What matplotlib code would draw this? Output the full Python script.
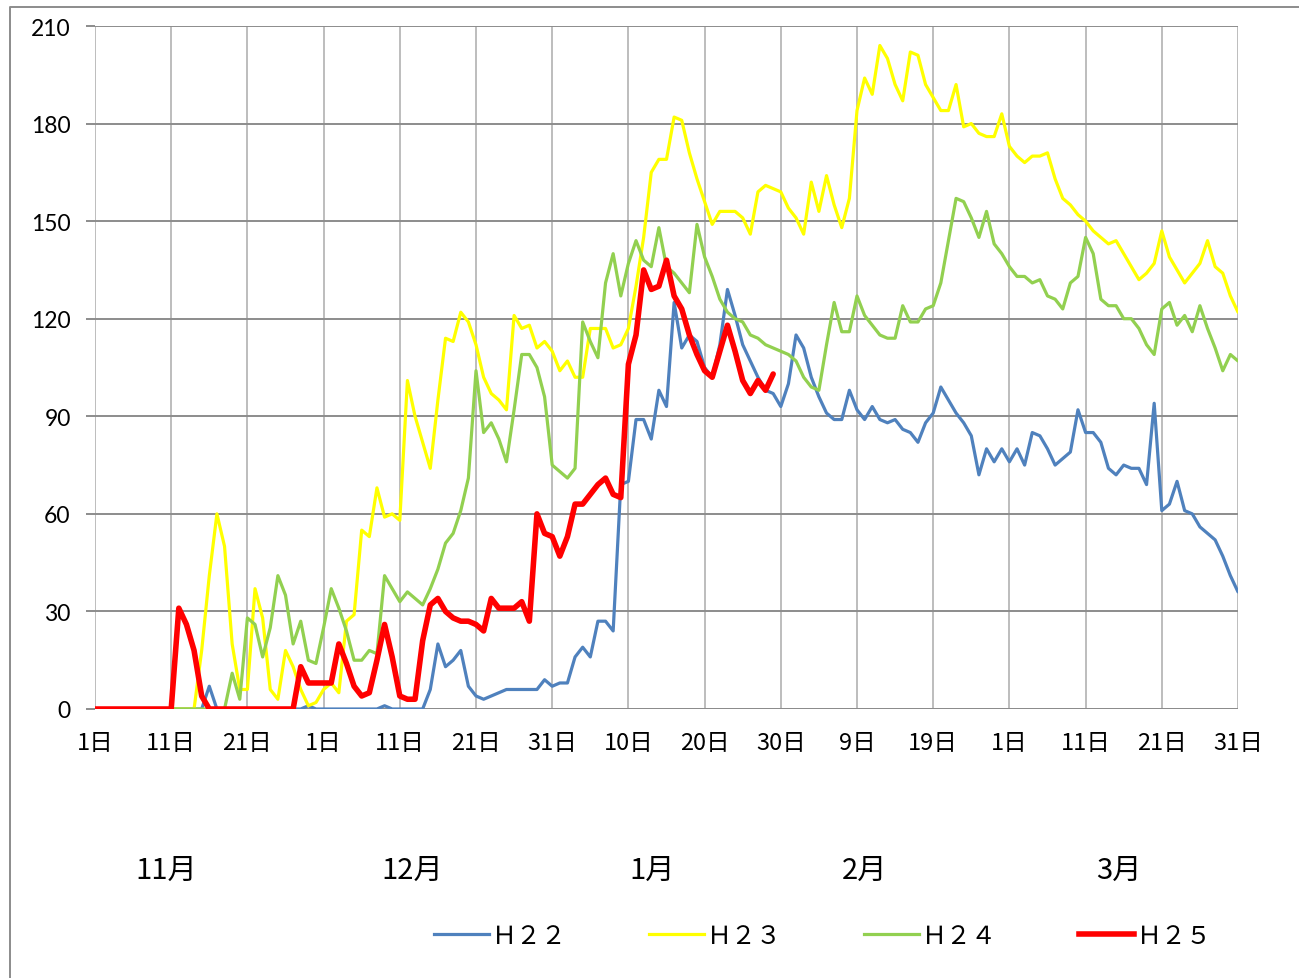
import matplotlib
matplotlib.use('Agg')
import matplotlib.pyplot as plt
import matplotlib.transforms as mtransforms
from matplotlib.lines import Line2D
import numpy as np

# ---------------- data ----------------
days = list(range(151))
tick_pos = list(range(0, 151, 10))
tick_labels = ["1日", "11日", "21日", "1日", "11日", "21日", "31日", "10日",
               "20日", "30日", "9日", "19日", "1日", "11日", "21日", "31日"]
months = ["11月", "12月", "1月", "2月", "3月"]
month_pos = [9.4, 41.6, 73.1, 101.0, 134.3]
y_ticks = [0, 30, 60, 90, 120, 150, 180, 210]
series_names = ["Ｈ２２", "Ｈ２３", "Ｈ２４", "Ｈ２５"]

h22 = [0, 0, 0, 0, 0, 0, 0, 0, 0, 0,
       0, 0, 0, 0, 0, 7, 0, 0, 0, 0,
       0, 0, 0, 0, 0, 0, 0, 0, 1, 0,
       0, 0, 0, 0, 0, 0, 0, 0, 1, 0,
       0, 0, 0, 0, 6, 20, 13, 15, 18, 7,
       4, 3, 4, 5, 6, 6, 6, 6, 6, 9,
       7, 8, 8, 16, 19, 16, 27, 27, 24, 69,
       70, 89, 89, 83, 98, 93, 125, 111, 115, 113,
       105, 102, 112, 129, 121, 112, 107, 102, 98, 97,
       93, 100, 115, 111, 102, 96, 91, 89, 89, 98,
       92, 89, 93, 89, 88, 89, 86, 85, 82, 88,
       91, 99, 95, 91, 88, 84, 72, 80, 76, 80,
       76, 80, 75, 85, 84, 80, 75, 77, 79, 92,
       85, 85, 82, 74, 72, 75, 74, 74, 69, 94,
       61, 63, 70, 61, 60, 56, 54, 52, 47, 41, 36]

h23 = [0, 0, 0, 0, 0, 0, 0, 0, 0, 0,
       0, 0, 0, 0, 18, 41, 60, 50, 20, 6,
       6, 37, 28, 6, 3, 18, 13, 6, 1, 2,
       6, 8, 5, 27, 29, 55, 53, 68, 59, 60,
       58, 101, 90, 82, 74, 95, 114, 113, 122, 119,
       112, 102, 97, 95, 92, 121, 117, 118, 111, 113,
       110, 104, 107, 102, 102, 117, 117, 117, 111, 112,
       117, 130, 145, 165, 169, 169, 182, 181, 171, 163,
       156, 149, 153, 153, 153, 151, 146, 159, 161, 160,
       159, 154, 151, 146, 162, 153, 164, 155, 148, 157,
       184, 194, 189, 204, 200, 192, 187, 202, 201, 192,
       188, 184, 184, 192, 179, 180, 177, 176, 176, 183,
       173, 170, 168, 170, 170, 171, 163, 157, 155, 152,
       150, 147, 145, 143, 144, 140, 136, 132, 134, 137,
       147, 139, 135, 131, 134, 137, 144, 136, 134, 127, 122]

h24 = [0, 0, 0, 0, 0, 0, 0, 0, 0, 0,
       0, 0, 0, 0, 0, 0, 0, 0, 11, 3,
       28, 26, 16, 25, 41, 35, 20, 27, 15, 14,
       25, 37, 31, 24, 15, 15, 18, 17, 41, 37,
       33, 36, 34, 32, 37, 43, 51, 54, 61, 71,
       104, 85, 88, 83, 76, 92, 109, 109, 105, 96,
       75, 73, 71, 74, 119, 113, 108, 131, 140, 127,
       137, 144, 138, 136, 148, 136, 134, 131, 128, 149,
       139, 133, 126, 122, 120, 119, 115, 114, 112, 111,
       110, 109, 107, 102, 99, 98, 112, 125, 116, 116,
       127, 121, 118, 115, 114, 114, 124, 119, 119, 123,
       124, 131, 144, 157, 156, 151, 145, 153, 143, 140,
       136, 133, 133, 131, 132, 127, 126, 123, 131, 133,
       145, 140, 126, 124, 124, 120, 120, 117, 112, 109,
       123, 125, 118, 121, 116, 124, 117, 111, 104, 109, 107]

h25 = [0, 0, 0, 0, 0, 0, 0, 0, 0, 0,
       0, 31, 26, 18, 4, 0, 0, 0, 0, 0,
       0, 0, 0, 0, 0, 0, 0, 13, 8, 8,
       8, 8, 20, 14, 7, 4, 5, 15, 26, 16,
       4, 3, 3, 21, 32, 34, 30, 28, 27, 27,
       26, 24, 34, 31, 31, 31, 33, 27, 60, 54,
       53, 47, 53, 63, 63, 66, 69, 71, 66, 65,
       106, 115, 135, 129, 130, 138, 127, 123, 115, 109,
       104, 102, 110, 118, 110, 101, 97, 101, 98, 103]
h25 = h25 + [np.nan] * (len(days) - len(h25))

colors = ["#4F81BD", "#FFFF00", "#92D050", "#FF0000"]
widths = [2.3, 2.3, 2.3, 4.0]
cjk = ["Noto Sans CJK JP", "DejaVu Sans"]

# ---------------- figure ----------------
W, H = 1299, 979
fig = plt.figure(figsize=(W / 100, H / 100), dpi=100)
fig.patch.set_facecolor("white")
ax = fig.add_axes([95 / W, 1 - 710 / H, (1238 - 95) / W, (710 - 27) / H])

for vals, c, lw, name in zip([h22, h23, h24, h25], colors, widths, series_names):
    ax.plot(days, vals, color=c, lw=lw, solid_joinstyle="round",
            solid_capstyle="round", label=name, zorder=3)

ax.set_xlim(0, 150)
ax.set_ylim(0, 210)
ax.set_xticks(tick_pos)
ax.set_xticklabels(tick_labels, fontfamily=cjk, fontsize=17)
ax.set_yticks(y_ticks)
ax.set_yticklabels([str(v) for v in y_ticks], fontfamily="Lato", fontsize=16.5)

for s in ax.spines.values():
    s.set_visible(False)
ax.grid(axis="y", color="#8C8C8C", lw=1.4, zorder=1)
ax.grid(axis="x", color="#BDBDBD", lw=1.4, zorder=1)
ax.axhline(0, color="#8C8C8C", lw=1.4, zorder=2)
ax.tick_params(axis="y", length=6.5, width=1.4, color="#8C8C8C", pad=11)
ax.tick_params(axis="x", length=0, pad=16)

# month labels
trans = mtransforms.blended_transform_factory(ax.transData, fig.transFigure)
for m, p in zip(months, month_pos):
    ax.text(p, 1 - 871 / H, m, transform=trans, ha="center", va="center",
            fontsize=21, fontfamily=cjk)

# chart-area frame (left and top edges)
fig.add_artist(Line2D([10 / W, 10 / W, 1.0], [0.0, 1 - 8 / H, 1 - 8 / H],
                      transform=fig.transFigure, color="#8C8C8C", lw=1.4))

# legend
handles = [Line2D([0], [0], color=c, lw=lw) for c, lw in zip(colors, widths)]
fig.legend(handles, series_names, loc="center", bbox_to_anchor=(823 / W, 1 - 937 / H),
           ncol=4, frameon=False, handlelength=2.2, handletextpad=0.1,
           columnspacing=3.3, prop={"family": cjk, "size": 18})

fig.savefig("out.png", dpi=100, facecolor="white")
